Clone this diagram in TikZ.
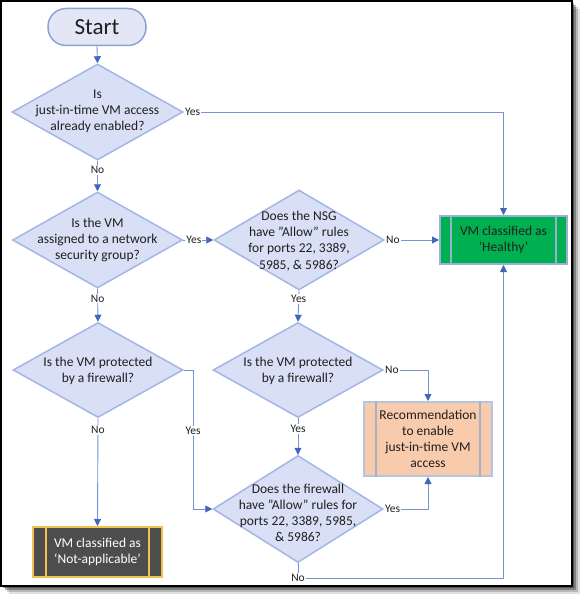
\documentclass[tikz,border=0pt]{standalone}
\usepackage{fontspec}
\setmainfont{Carlito}
\usetikzlibrary{shapes.geometric,arrows.meta}
\definecolor{diafill}{HTML}{D9DFF5}
\definecolor{diaedge}{HTML}{A3B6E6}
\definecolor{startfill}{HTML}{E2E6F5}
\definecolor{startedge}{HTML}{8CA3D8}
\definecolor{connc}{HTML}{7393D3}
\definecolor{tipc}{HTML}{3D68BE}
\definecolor{healthyfill}{HTML}{00B050}
\definecolor{healthyedge}{HTML}{9AAFD6}
\definecolor{recfill}{HTML}{F8CBAD}
\definecolor{recedge}{HTML}{B4C5E4}
\definecolor{nafill}{HTML}{4D4D4D}
\definecolor{naedge}{HTML}{F2C14E}
\definecolor{txtc}{HTML}{1F1F1F}
\begin{document}
\begin{tikzpicture}[x=1pt,y=-1pt,
  dia/.style={diamond, draw=diaedge, fill=diafill, line width=1.5pt, inner sep=0pt},
  lbl/.style={font=\fontsize{13.5}{16.2}\selectfont, align=center, text=txtc, inner sep=0pt},
  yn/.style={font=\fontsize{11.5}{13}\selectfont, fill=white, inner sep=1pt, text=txtc},
  conn/.style={draw=connc, line width=0.9pt, -{Triangle[length=7pt,width=7pt,color=tipc]}},
  proc/.style={rectangle, inner sep=0pt, line width=2pt, align=center, font=\fontsize{13.5}{16.2}\selectfont}
]
\useasboundingbox (0,0) rectangle (585,599);
% frame with shadow
\foreach \d/\o in {8/0.12,6/0.18,4/0.3,2/0.35} {
  \fill[black,opacity=\o] (1+\d,1+\d) rectangle (572+\d,586+\d);
}
\draw[black, line width=1.2pt, fill=white] (1,1) rectangle (572,586);

% start
\node[rectangle, rounded corners=18pt, draw=startedge, fill=startfill, line width=1.5pt,
  minimum width=98pt, minimum height=37pt, inner sep=0pt, font=\fontsize{23}{25}\selectfont, text=txtc] (start) at (97,27) {Start};

% diamonds
\node[dia, minimum width=171pt, minimum height=96pt] (d1) at (97.5,112) {};
\node[lbl] (t1) at (97.5,111) {Is\\just-in-time VM access\\already enabled?};
\node[dia, minimum width=170pt, minimum height=96pt] (d2) at (97.5,240) {};
\node[lbl] (t2) at (97.5,240) {Is the VM\\assigned to a network\\security group?};
\node[dia, minimum width=170pt, minimum height=100pt] (d3) at (299,240) {};
\node[lbl] (t3) at (299,241) {Does the NSG\\have ”Allow” rules\\for ports 22, 3389,\\5985, \& 5986?};
\node[dia, minimum width=170pt, minimum height=95pt] (d4) at (98,370) {};
\node[lbl] (t4) at (98,371) {Is the VM protected\\by a firewall?};
\node[dia, minimum width=170pt, minimum height=95pt] (d5) at (298,370) {};
\node[lbl] (t5) at (298,371) {Is the VM protected\\by a firewall?};
\node[dia, minimum width=170pt, minimum height=107pt] (d6) at (298,509) {};
\node[lbl] (t6) at (298,513) {Does the firewall\\have ”Allow” rules for\\ports 22, 3389, 5985,\\\& 5986?};

% process boxes
\node[proc, draw=healthyedge, fill=healthyfill, minimum width=127pt, minimum height=48pt, text=txtc] (h) at (503.5,240) {VM classified as\\‘Healthy’};
\draw[healthyedge, line width=1.5pt] ([xshift=12pt]h.north west) -- ([xshift=12pt]h.south west);
\draw[healthyedge, line width=1.5pt] ([xshift=-12pt]h.north east) -- ([xshift=-12pt]h.south east);

\node[proc, draw=recedge, fill=recfill, minimum width=128pt, minimum height=74pt, text=txtc] (rec) at (428,439) {Recommendation\\to enable\\just-in-time VM\\access};
\draw[recedge!70!gray, line width=1.5pt] ([xshift=13pt]rec.north west) -- ([xshift=13pt]rec.south west);
\draw[recedge!70!gray, line width=1.5pt] ([xshift=-13pt]rec.north east) -- ([xshift=-13pt]rec.south east);

\node[proc, draw=naedge, fill=nafill, minimum width=129pt, minimum height=50pt, text=white] (na) at (97.5,552) {VM classified as\\‘Not-applicable’};
\draw[naedge, line width=1.5pt] ([xshift=14pt]na.north west) -- ([xshift=14pt]na.south west);
\draw[naedge, line width=1.5pt] ([xshift=-14pt]na.north east) -- ([xshift=-14pt]na.south east);

% connectors
\draw[conn] (start.south) -- (d1.north);
\draw[conn] (d1.east) -| node[yn, pos=0, anchor=west] {Yes} (h.north);
\draw[conn] (d1.south) -- node[yn, pos=0.3] {No} (d2.north);
\draw[conn] (d2.east) -- node[yn, pos=0.35] {Yes} (d3.west);
\draw[conn] (d3.east) -- node[yn, pos=0, anchor=west] {No} (h.west);
\draw[conn] (d3.south) -- node[yn, pos=0.27] {Yes} (d5.north);
\draw[conn] (d2.south) -- node[yn, pos=0.3] {No} (d4.north);
\coordinate (k1) at (193,370);
\draw[conn] (d4.east) -- (k1) |- node[yn, pos=0.22] {Yes} (d6.west);
\draw[conn] (d4.south) -- node[yn, pos=0.11] {No} (na.north);
\draw[conn] (d5.east) -| node[yn, pos=0, anchor=west] {No} (rec.north);
\draw[conn] (d5.south) -- node[yn, pos=0.3] {Yes} (d6.north);
\draw[conn] (d6.east) -| node[yn, pos=0, anchor=west] {Yes} (rec.south);
\coordinate (k2) at (298,578);
\draw[conn] (d6.south) -- (k2) node[yn] {No} -| (h.south);
\end{tikzpicture}
\end{document}
